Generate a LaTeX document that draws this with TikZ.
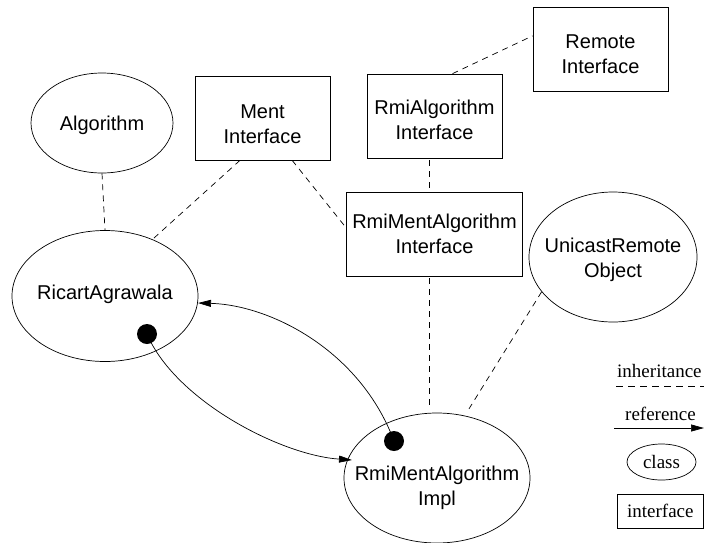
\documentclass[tikz,border=0pt]{standalone}
\usepackage{fontspec}
\setmainfont{Liberation Serif}
\setsansfont{Liberation Sans}
\usetikzlibrary{shapes.geometric,arrows.meta,calc}
\begin{document}
\begin{tikzpicture}[x=1pt,y=-1pt,
  txt/.style={font=\sffamily\fontsize{20}{25}\selectfont, align=center, inner sep=0pt},
  cls/.style={draw, ellipse, inner sep=0pt, line width=0.7pt},
  intf/.style={draw, rectangle, inner sep=0pt, line width=0.7pt},
  inh/.style={dash pattern=on 6pt off 5pt, line width=0.7pt},
  refl/.style={line width=0.7pt, -{Triangle[length=13pt,width=7pt]}},
  dotn/.style={circle, fill=black, minimum size=20pt, inner sep=0pt},
  leg/.style={font=\fontsize{19}{23}\selectfont, inner sep=0pt}
]
\useasboundingbox (0,0) rectangle (704,542);

% classes and interfaces
\node[cls, minimum width=142pt, minimum height=100pt,
  label={[txt, yshift=-2pt]center:Algorithm}] (alg) at (102,123) {};
\node[intf, minimum width=135pt, minimum height=84pt,
  label={[txt, yshift=-6pt]center:Ment\\Interface}] (ment) at (262.5,118) {};
\node[cls, minimum width=186pt, minimum height=131pt,
  label={[txt, yshift=2pt]center:RicartAgrawala}] (ricart) at (105,296) {};
\node[intf, minimum width=135pt, minimum height=84pt,
  label={[txt, yshift=-4pt]center:RmiAlgorithm\\Interface}] (rmialg) at (434.5,116) {};
\node[intf, minimum width=135pt, minimum height=84pt,
  label={[txt, yshift=-5pt]center:Remote\\Interface}] (remote) at (600.5,49) {};
\node[intf, minimum width=176pt, minimum height=84pt,
  label={[txt]center:RmiMentAlgorithm\\Interface}] (rmiment) at (434.5,234) {};
\node[cls, minimum width=168pt, minimum height=130pt,
  label={[txt, yshift=-3pt]center:UnicastRemote\\Object}] (unicast) at (613,257) {};
\node[cls, minimum width=186pt, minimum height=130pt,
  label={[txt, yshift=-10pt]center:RmiMentAlgorithm\\Impl}] (impl) at (437,478) {};

% inheritance
\coordinate (as) at ($(rmialg.south)+(-5,2)$);
\coordinate (mn) at ($(rmiment.north)+(-5,-2)$);
\coordinate (ms) at ($(rmiment.south)+(-5,2)$);
\draw[inh] (alg.south) -- (ricart.north);
\draw[inh] (ment.-118) -- (ricart.50);
\draw[inh] (ment.-55) -- (rmiment.176);
\draw[inh] (rmialg.67) -- (remote.169);
\draw[inh] (as) -- (mn);
\draw[inh, shorten >=5pt] (ms) -- (ms |- impl.north);
\draw[inh, shorten >=8pt] (unicast.206) -- (impl.66);

% references
\node[dotn] (d1) at (147,334) {};
\node[dotn] (d2) at (394,441) {};
\coordinate (e1) at (352,460);
\coordinate (e2) at (198,303);
\draw[refl] (d1.center) .. controls (175,400) and (280,455) .. (e1);
\draw[refl] (d2.center) .. controls (360,350) and (270,305) .. (e2);

% legend
\node[leg, anchor=base west] (linh) at (617,377) {inheritance};
\coordinate (ia) at (616,386);
\coordinate (ib) at (704,386);
\draw[dash pattern=on 7pt off 5pt, line width=0.7pt] (ia) -- (ib);
\node[leg, anchor=base west] (lref) at (625,420) {reference};
\coordinate (ra) at (614,428);
\coordinate (rb) at (704,428);
\draw[refl] (ra) -- (rb);
\node[leg, draw, ellipse, line width=0.7pt, minimum width=69pt, minimum height=36pt] (lcls) at (661.5,462) {class};
\node[leg, draw, rectangle, line width=0.7pt, minimum width=86pt, minimum height=34pt, anchor=west] (lint) at (617,511) {interface};
\end{tikzpicture}
\end{document}
